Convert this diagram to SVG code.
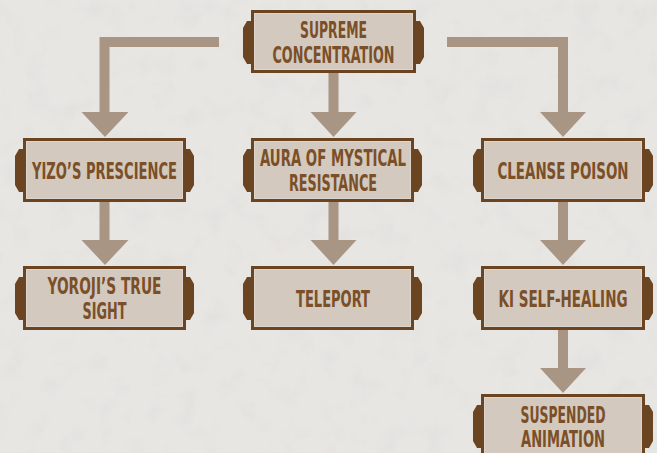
<svg xmlns="http://www.w3.org/2000/svg" width="657" height="453" viewBox="0 0 657 453">
  <defs>
    <filter id="grain" x="0" y="0" width="100%" height="100%">
      <feTurbulence type="fractalNoise" baseFrequency="0.04" numOctaves="4" seed="7" result="n"/>
      <feColorMatrix in="n" type="matrix" values="0 0 0 0 0.6  0 0 0 0 0.59  0 0 0 0 0.58  0 0 0 -1.2 0.6" result="c"/>
      <feComposite in="c" in2="SourceGraphic" operator="in"/>
    </filter>
  </defs>
  <style>
    .bg { fill: #e8e6e3; }
    .conn { fill: none; stroke: #a89583; stroke-width: 10; stroke-linejoin: miter; }
    .head { fill: #a89583; }
    .box { fill: #d3c9be; stroke: #6b4422; stroke-width: 3; }
    .inner { fill: none; stroke: #ddd5cc; stroke-width: 1; }
    .tab { fill: #6b4422; }
    .lbl { font-family: "Liberation Sans Narrow", "DejaVu Sans Condensed", "Liberation Sans", sans-serif; font-weight: bold; font-size: 23px; fill: #7b4f27; text-anchor: middle; }
  </style>

  <rect class="bg" x="0" y="0" width="657" height="453"/>
  <rect x="0" y="0" width="657" height="453" fill="#ffffff" filter="url(#grain)" opacity="0.35"/>

  <g id="connectors">
    <path class="conn" d="M219,42 H104.5 V113"/>
    <polygon class="head" points="81.5,112 128.5,112 105,137"/>
    <path class="conn" d="M333.5,72 V113"/>
    <polygon class="head" points="310.5,112 356.5,112 333.5,137"/>
    <path class="conn" d="M447,42 H563 V113"/>
    <polygon class="head" points="540,112 586,112 563,137"/>
    <path class="conn" d="M104.5,201 V241"/>
    <polygon class="head" points="81.5,240 128.5,240 105,265"/>
    <path class="conn" d="M333.5,201 V241"/>
    <polygon class="head" points="310.5,240 356.5,240 333.5,265"/>
    <path class="conn" d="M563,201 V241"/>
    <polygon class="head" points="540,240 586,240 563,265"/>
    <path class="conn" d="M563,329 V369"/>
    <polygon class="head" points="540,368 586,368 563,393"/>
  </g>

  <g id="supreme-concentration" transform="translate(251,10)">
    <polygon class="tab" points="0,11 -4,11 -8,18 -8,47 -4,54 0,54"/>
    <polygon class="tab" points="165,11 169,11 173,18 173,47 169,54 165,54"/>
    <rect class="box" x="1.5" y="1.5" width="162" height="60"/>
    <rect class="inner" x="3.5" y="3.5" width="158" height="56"/>
    <text class="lbl" x="82.5" y="27.5" textLength="67" lengthAdjust="spacingAndGlyphs">SUPREME</text>
    <text class="lbl" x="82.5" y="52.5" textLength="122" lengthAdjust="spacingAndGlyphs">CONCENTRATION</text>
  </g>

  <g id="yizos-prescience" transform="translate(23,138)">
    <polygon class="tab" points="0,11 -4,11 -8,18 -8,47 -4,54 0,54"/>
    <polygon class="tab" points="163,11 167,11 171,18 171,47 167,54 163,54"/>
    <rect class="box" x="1.5" y="1.5" width="160" height="61"/>
    <rect class="inner" x="3.5" y="3.5" width="156" height="57"/>
    <text class="lbl" x="81.5" y="41" textLength="145" lengthAdjust="spacingAndGlyphs">YIZO’S PRESCIENCE</text>
  </g>

  <g id="yorojis-true-sight" transform="translate(23,266)">
    <polygon class="tab" points="0,11 -4,11 -8,18 -8,47 -4,54 0,54"/>
    <polygon class="tab" points="163,11 167,11 171,18 171,47 167,54 163,54"/>
    <rect class="box" x="1.5" y="1.5" width="160" height="61"/>
    <rect class="inner" x="3.5" y="3.5" width="156" height="57"/>
    <text class="lbl" x="81.5" y="28" textLength="114" lengthAdjust="spacingAndGlyphs">YOROJI’S TRUE</text>
    <text class="lbl" x="81.5" y="53" textLength="44" lengthAdjust="spacingAndGlyphs">SIGHT</text>
  </g>

  <g id="aura-of-mystical-resistance" transform="translate(251,138)">
    <polygon class="tab" points="0,11 -4,11 -8,18 -8,47 -4,54 0,54"/>
    <polygon class="tab" points="163,11 167,11 171,18 171,47 167,54 163,54"/>
    <rect class="box" x="1.5" y="1.5" width="160" height="61"/>
    <rect class="inner" x="3.5" y="3.5" width="156" height="57"/>
    <text class="lbl" x="82" y="28" textLength="146" lengthAdjust="spacingAndGlyphs">AURA OF MYSTICAL</text>
    <text class="lbl" x="82" y="53" textLength="88" lengthAdjust="spacingAndGlyphs">RESISTANCE</text>
  </g>

  <g id="teleport" transform="translate(251,266)">
    <polygon class="tab" points="0,11 -4,11 -8,18 -8,47 -4,54 0,54"/>
    <polygon class="tab" points="163,11 167,11 171,18 171,47 167,54 163,54"/>
    <rect class="box" x="1.5" y="1.5" width="160" height="61"/>
    <rect class="inner" x="3.5" y="3.5" width="156" height="57"/>
    <text class="lbl" x="82" y="41" textLength="74" lengthAdjust="spacingAndGlyphs">TELEPORT</text>
  </g>

  <g id="cleanse-poison" transform="translate(481,138)">
    <polygon class="tab" points="0,11 -4,11 -8,18 -8,47 -4,54 0,54"/>
    <polygon class="tab" points="164,11 168,11 172,18 172,47 168,54 164,54"/>
    <rect class="box" x="1.5" y="1.5" width="161" height="61"/>
    <rect class="inner" x="3.5" y="3.5" width="157" height="57"/>
    <text class="lbl" x="82" y="41" textLength="131" lengthAdjust="spacingAndGlyphs">CLEANSE POISON</text>
  </g>

  <g id="ki-self-healing" transform="translate(481,266)">
    <polygon class="tab" points="0,11 -4,11 -8,18 -8,47 -4,54 0,54"/>
    <polygon class="tab" points="164,11 168,11 172,18 172,47 168,54 164,54"/>
    <rect class="box" x="1.5" y="1.5" width="161" height="61"/>
    <rect class="inner" x="3.5" y="3.5" width="157" height="57"/>
    <text class="lbl" x="82" y="41" textLength="129" lengthAdjust="spacingAndGlyphs">KI SELF-HEALING</text>
  </g>

  <g id="suspended-animation" transform="translate(481,394)">
    <polygon class="tab" points="0,11 -4,11 -8,18 -8,47 -4,54 0,54"/>
    <polygon class="tab" points="164,11 168,11 172,18 172,47 168,54 164,54"/>
    <rect class="box" x="1.5" y="1.5" width="161" height="61"/>
    <rect class="inner" x="3.5" y="3.5" width="157" height="57"/>
    <text class="lbl" x="82" y="28.5" textLength="85" lengthAdjust="spacingAndGlyphs">SUSPENDED</text>
    <text class="lbl" x="82" y="52.5" textLength="84" lengthAdjust="spacingAndGlyphs">ANIMATION</text>
  </g>
</svg>
